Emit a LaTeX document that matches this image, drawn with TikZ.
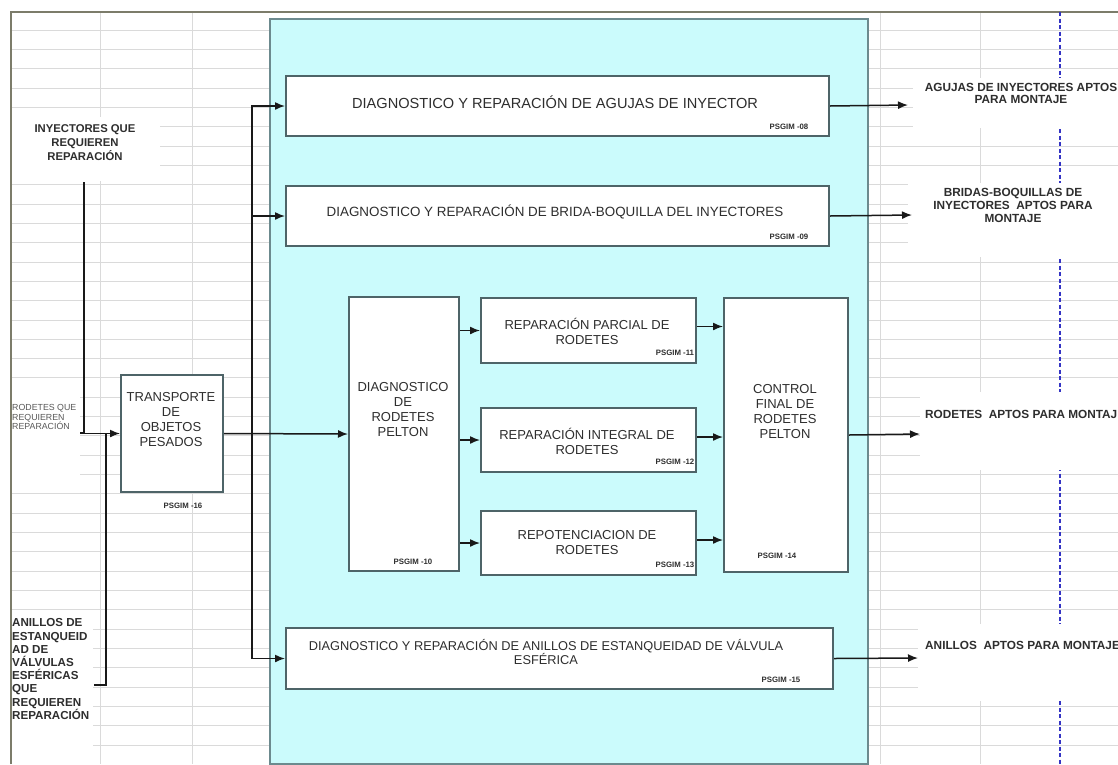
\documentclass[tikz,border=0pt]{standalone}
\usepackage{fontspec}
\setmainfont{Liberation Sans}
\usetikzlibrary{arrows.meta}
\definecolor{gridgray}{HTML}{DADADA}
\definecolor{framegray}{HTML}{7C7C6A}
\definecolor{panelfill}{HTML}{CBFBFC}
\definecolor{paneledge}{HTML}{6C8A8E}
\definecolor{boxedge}{HTML}{4E6468}
\definecolor{ink}{HTML}{2E2E2E}
\definecolor{guideblue}{HTML}{3434C4}

\begin{document}
\begin{tikzpicture}[x=1pt,y=-1pt,
  gridline/.style={draw=gridgray,line width=0.9pt},
  panelbox/.style={draw=paneledge,line width=2.4pt,fill=panelfill,inner sep=0pt,anchor=north west},
  procbox/.style={draw=boxedge,line width=2pt,fill=white,inner sep=0pt,anchor=north west},
  boxtext/.style={text=ink,align=center,inner sep=0pt,font=\fontsize{13}{15}\selectfont},
  code/.style={text=ink,inner sep=0pt,font=\bfseries\fontsize{7.8}{8}\selectfont},
  extlabel/.style={text=ink,inner sep=0pt,font=\bfseries\fontsize{11.8}{13}\selectfont},
  tinylabel/.style={text=ink!80,inner sep=0pt,align=left,font=\fontsize{8.8}{9.5}\selectfont},
  flow/.style={line width=1.5pt,draw=black!90,-{Latex[length=10pt,width=8pt]}},
  wire/.style={line width=1.5pt,draw=black!90},
  mask/.style={fill=white,draw=none},
  guide/.style={draw=guideblue,line width=2pt,dash pattern=on 4pt off 2.5pt},
]
\useasboundingbox (0,0) rectangle (1118,764);
\clip (0,0) rectangle (1118,764);

% sheet grid
\foreach \k in {0,...,37} {
  \draw[gridline] (11,{30+19.33*\k}) -- (1118,{30+19.33*\k});
}
\foreach \gx in {100,192,880,980} {
  \draw[gridline] (\gx,12) -- (\gx,764);
}
% sheet frame
\draw[draw=framegray,line width=1.5pt] (11,764) -- (11,12) -- (1118,12);
% page-break guide
\draw[guide] (1060,12) -- (1060,764);

% white backgrounds of the free labels
\fill[mask] (12,117) rectangle (160,181);
\fill[mask] (12,392) rectangle (80,488);
\fill[mask] (12,617) rectangle (93,764);
\fill[mask] (913,78) rectangle (1118,128);
\fill[mask] (908,183) rectangle (1118,257);
\fill[mask] (920,392) rectangle (1118,470);
\fill[mask] (918,624) rectangle (1118,701);

% process panel
\node[panelbox,minimum width=598pt,minimum height=745pt] (panel) at (269,18) {};

% process boxes
\node[procbox,minimum width=102pt,minimum height=117pt] (trans) at (120,374) {};
\node[procbox,minimum width=543pt,minimum height=60pt] (agujas) at (285,75) {};
\node[procbox,minimum width=543pt,minimum height=60pt] (brida) at (285,185) {};
\node[procbox,minimum width=110pt,minimum height=274pt] (diag) at (348,296) {};
\node[procbox,minimum width=215pt,minimum height=65pt] (rp) at (480,297) {};
\node[procbox,minimum width=215pt,minimum height=64pt] (ri) at (480,407) {};
\node[procbox,minimum width=215pt,minimum height=64pt] (rr) at (480,510) {};
\node[procbox,minimum width=124pt,minimum height=274pt] (cf) at (723,297) {};
\node[procbox,minimum width=547pt,minimum height=61pt] (anillos) at (285,627) {};

% box texts
\node[boxtext] (transT) at (171,420) {TRANSPORTE\\DE\\OBJETOS\\PESADOS};
\node[code] (transC) at (183,506) {PSGIM -16};
\node[boxtext,font=\fontsize{14.6}{15}\selectfont] (agujasT) at (555,102) {DIAGNOSTICO Y REPARACIÓN DE AGUJAS DE INYECTOR};
\node[code] (agujasC) at (789,127) {PSGIM -08};
\node[boxtext,font=\fontsize{13.4}{15}\selectfont] (bridaT) at (555,212) {DIAGNOSTICO Y REPARACIÓN DE BRIDA-BOQUILLA DEL INYECTORES};
\node[code] (bridaC) at (789,237) {PSGIM -09};
\node[boxtext] (diagT) at (403,410) {DIAGNOSTICO\\DE\\RODETES\\PELTON};
\node[code] (diagC) at (413,562) {PSGIM -10};
\node[boxtext] (rpT) at (587,331) {REPARACIÓN PARCIAL DE\\RODETES};
\node[code] (rpC) at (675,353) {PSGIM -11};
\node[boxtext] (riT) at (587,441) {REPARACIÓN INTEGRAL DE\\RODETES};
\node[code] (riC) at (675,462) {PSGIM -12};
\node[boxtext] (rrT) at (587,543) {REPOTENCIACION DE\\RODETES};
\node[code] (rrC) at (675,565) {PSGIM -13};
\node[boxtext] (cfT) at (785,412) {CONTROL\\FINAL DE\\RODETES\\PELTON};
\node[code] (cfC) at (777,556) {PSGIM -14};
\node[boxtext,font=\fontsize{12.8}{14}\selectfont] (anillosT) at (546,652)
  {DIAGNOSTICO Y REPARACIÓN DE ANILLOS DE ESTANQUEIDAD DE VÁLVULA\\ESFÉRICA};
\node[code] (anillosC) at (781,680) {PSGIM -15};

% inputs
\node[extlabel,align=center,font=\bfseries\fontsize{11.3}{14}\selectfont] (injL) at (85,143)
  {INYECTORES QUE\\REQUIEREN\\REPARACIÓN};
\node[tinylabel,anchor=west] (rodL) at (12,417) {RODETES QUE\\REQUIEREN\\REPARACIÓN};
\node[extlabel,align=left,anchor=west,font=\bfseries\fontsize{11.6}{13.2}\selectfont] (aniL) at (12,669)
  {ANILLOS DE\\ESTANQUEID\\AD DE\\VÁLVULAS\\ESFÉRICAS\\QUE\\REQUIEREN\\REPARACIÓN};

% outputs
\node[extlabel,align=center,font=\bfseries\fontsize{11.8}{12}\selectfont] (outA) at (1021,93)
  {AGUJAS DE INYECTORES APTOS\\PARA MONTAJE};
\node[extlabel,align=center] (outB) at (1013,205)
  {BRIDAS-BOQUILLAS DE\\INYECTORES\ \ APTOS PARA\\MONTAJE};
\node[extlabel,anchor=west] (outR) at (925,414) {RODETES\ \ APTOS PARA MONTAJE};
\node[extlabel,anchor=west] (outN) at (925,645) {ANILLOS\ \ APTOS PARA MONTAJE};

% connector end points
\coordinate (injTail) at (84,182);
\coordinate (rodTail) at (80,433);
\coordinate (aniTail) at (94,685);
\coordinate (aniJoin) at (106,433);
\coordinate (busJoin) at (252,433);
\coordinate (tipA) at (908,105);
\coordinate (tipB) at (912,215);
\coordinate (tipR) at (920,434);
\coordinate (tipN) at (918,658);

% incoming flows
\draw[flow] (injTail) |- (trans.west);
\draw[wire] (rodTail) -- (injTail |- rodTail);
\draw[wire] (aniTail) -| (aniJoin);

% distribution bus
\draw[flow] (trans.east) -- (diag.west);
\draw[flow] (busJoin) |- (agujas.west);
\draw[flow] (busJoin) |- (brida.west);
\draw[flow] (busJoin) |- (anillos.west);

% Pelton runner line
\draw[flow] (diag.east |- rp.west) -- (rp.west);
\draw[flow] (diag.east |- ri.west) -- (ri.west);
\draw[flow] (diag.east |- rr.west) -- (rr.west);
\draw[flow] ([yshift=4pt]rp.east) -- ([yshift=4pt]rp.east -| cf.west);
\draw[flow] ([yshift=3pt]ri.east) -- ([yshift=3pt]ri.east -| cf.west);
\draw[flow] ([yshift=3pt]rr.east) -- ([yshift=3pt]rr.east -| cf.west);

% outgoing flows
\draw[flow] (agujas.east) -- (tipA);
\draw[flow] (brida.east) -- (tipB);
\draw[flow] (cf.east) -- (tipR);
\draw[flow] (anillos.east) -- (tipN);
\end{tikzpicture}
\end{document}
